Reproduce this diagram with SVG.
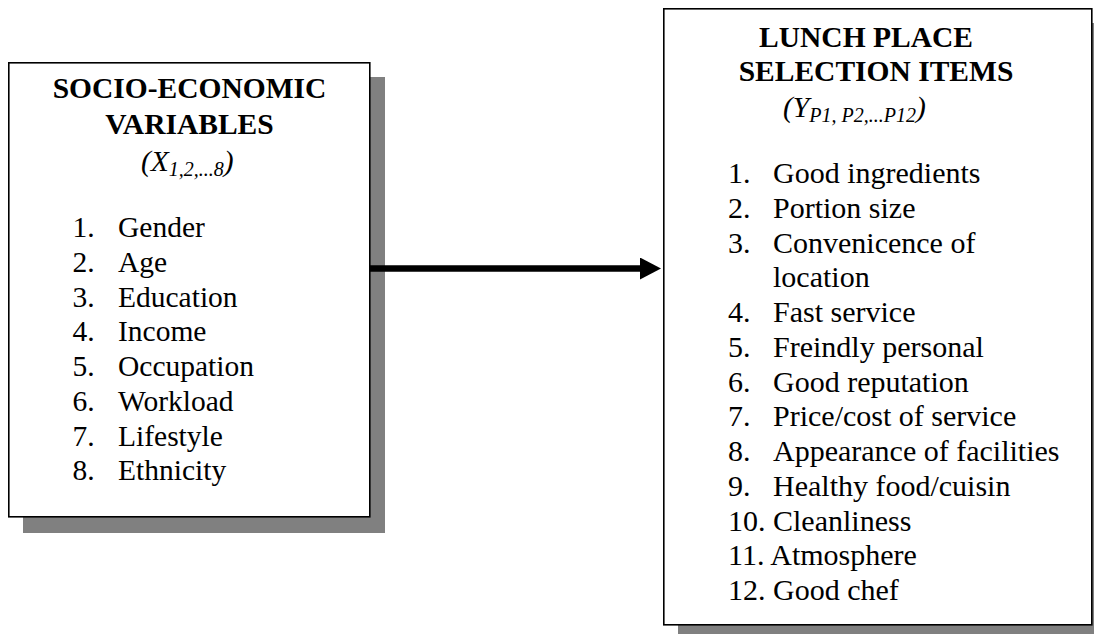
<svg xmlns="http://www.w3.org/2000/svg" width="1094" height="634" viewBox="0 0 1094 634">
  <style>
    .shadow { fill: #808080; }
    .box { fill: #ffffff; stroke: #000000; stroke-width: 1.6; }
    text { font-family: "Liberation Serif", "Times New Roman", serif; fill: #000000; font-size: 29.5px; }
    .title { font-weight: bold; text-anchor: middle; }
    .sym { font-style: italic; }
    .sub { font-size: 20px; }
    .items-r text { font-size: 30px; }
  </style>
  <defs>
    <marker id="arrowhead" markerUnits="userSpaceOnUse" markerWidth="22" markerHeight="22" refX="0" refY="11" orient="auto">
      <polygon points="0,0 21,11 0,22" fill="#000000"/>
    </marker>
  </defs>

  <!-- Socio-economic variables -->
  <g id="node-socio-economic">
    <rect class="shadow" x="23" y="77" width="362" height="456"/>
    <rect class="box" x="8.8" y="62.8" width="361" height="454"/>
    <text class="title" x="189.5" y="98">SOCIO-ECONOMIC</text>
    <text class="title" x="189.5" y="134">VARIABLES</text>
    <text class="sym" x="141" y="171">(X<tspan class="sub" dy="5">1,2,...8</tspan><tspan dy="-5">)</tspan></text>
    <g>
      <text x="72.5" y="237">1.</text><text x="118" y="237">Gender</text>
      <text x="72.5" y="271.75">2.</text><text x="118" y="271.75">Age</text>
      <text x="72.5" y="306.5">3.</text><text x="118" y="306.5">Education</text>
      <text x="72.5" y="341.25">4.</text><text x="118" y="341.25">Income</text>
      <text x="72.5" y="376">5.</text><text x="118" y="376">Occupation</text>
      <text x="72.5" y="410.75">6.</text><text x="118" y="410.75">Workload</text>
      <text x="72.5" y="445.5">7.</text><text x="118" y="445.5">Lifestyle</text>
      <text x="72.5" y="480.25">8.</text><text x="118" y="480.25">Ethnicity</text>
    </g>
  </g>

  <!-- Lunch place selection items -->
  <g id="node-lunch-place">
    <rect class="shadow" x="678" y="23" width="430" height="620"/>
    <rect class="box" x="663.8" y="8.8" width="428" height="616"/>
    <text class="title" x="866" y="47">LUNCH PLACE</text>
    <text class="title" x="876" y="81">SELECTION ITEMS</text>
    <text class="sym" x="783" y="117">(Y<tspan class="sub" dy="5">P1, P2,...P12</tspan><tspan dy="-5">)</tspan></text>
    <g class="items-r">
      <text x="728" y="183">1.</text><text x="773" y="183">Good ingredients</text>
      <text x="728" y="217.75">2.</text><text x="773" y="217.75">Portion size</text>
      <text x="728" y="252.5">3.</text><text x="773" y="252.5">Convenicence of</text>
      <text x="773" y="287.25">location</text>
      <text x="728" y="322">4.</text><text x="773" y="322">Fast service</text>
      <text x="728" y="356.75">5.</text><text x="773" y="356.75">Freindly personal</text>
      <text x="728" y="391.5">6.</text><text x="773" y="391.5">Good reputation</text>
      <text x="728" y="426.25">7.</text><text x="773" y="426.25">Price/cost of service</text>
      <text x="728" y="461">8.</text><text x="773" y="461">Appearance of facilities</text>
      <text x="728" y="495.75">9.</text><text x="773" y="495.75">Healthy food/cuisin</text>
      <text x="728" y="530.5">10. Cleanliness</text>
      <text x="728" y="565.25">11. Atmosphere</text>
      <text x="728" y="600">12. Good chef</text>
    </g>
  </g>

  <!-- Connectors -->
  <g id="connectors">
    <line x1="370" y1="268.5" x2="640" y2="268.5" stroke="#000000" stroke-width="6.5" marker-end="url(#arrowhead)"/>
  </g>
</svg>
